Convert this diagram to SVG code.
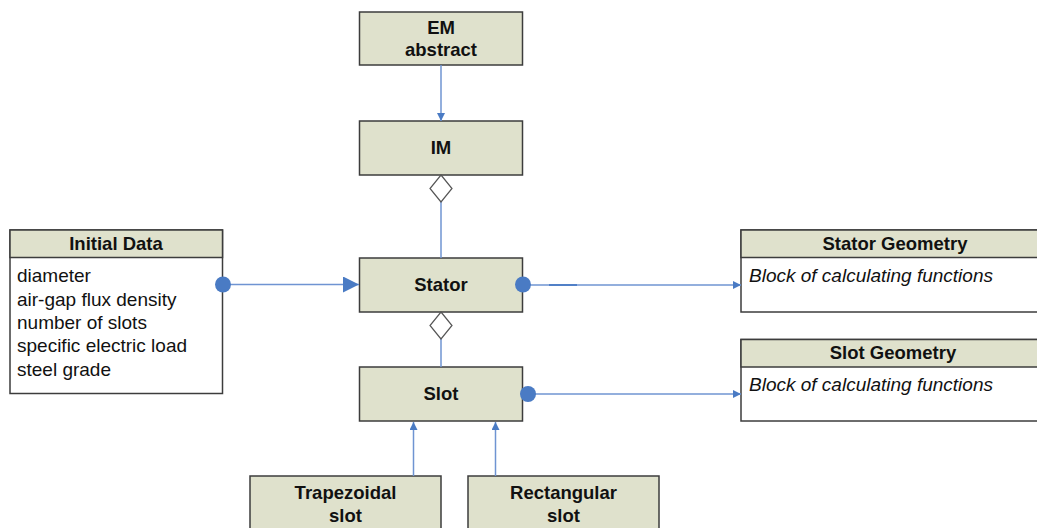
<svg xmlns="http://www.w3.org/2000/svg" width="1037" height="528" viewBox="0 0 1037 528">
<defs>
<style>
.box{fill:#dfe1cc;stroke:#3c3c3c;stroke-width:1.5}
.body{fill:#ffffff;stroke:#3c3c3c;stroke-width:1.5}
.t{font-family:"Liberation Sans",Arial,sans-serif;font-size:18.5px;font-weight:bold;fill:#111;text-anchor:middle}
.b{font-family:"Liberation Sans",Arial,sans-serif;font-size:19px;fill:#111}
.i{font-family:"Liberation Sans",Arial,sans-serif;font-size:19px;font-style:italic;fill:#111}
.ln{stroke:#6f94d2;stroke-width:1.5;fill:none}
.dot{fill:#4a7bc4}
.dia{fill:#fff;stroke:#555;stroke-width:1.2}
</style>
<marker id="sm" viewBox="0 0 10 10" refX="10" refY="5" markerWidth="8" markerHeight="8" markerUnits="userSpaceOnUse" orient="auto">
<path d="M0,0 L10,5 L0,10 Z" fill="#4a7bc4"/>
</marker>
<marker id="big" viewBox="0 0 10 10" refX="10" refY="5" markerWidth="16" markerHeight="16" markerUnits="userSpaceOnUse" orient="auto">
<path d="M0,0 L10,5 L0,10 Z" fill="#4a7bc4"/>
</marker>
</defs>
<g id="em">
<rect class="box" x="359.5" y="12" width="163" height="53"/>
<text class="t" x="441" y="34">EM</text>
<text class="t" x="441" y="56">abstract</text>
</g>
<g id="im">
<rect class="box" x="359.5" y="121" width="163" height="54"/>
<text class="t" x="441" y="154">IM</text>
</g>
<g id="stator">
<rect class="box" x="359.5" y="258" width="163" height="54"/>
<text class="t" x="441" y="291">Stator</text>
</g>
<g id="slot">
<rect class="box" x="359.5" y="367" width="163" height="54"/>
<text class="t" x="441" y="400">Slot</text>
</g>
<g id="initial-data">
<rect class="body" x="10" y="230" width="212.5" height="163.5"/>
<rect class="box" x="10" y="230" width="212.5" height="27.5"/>
<text class="t" x="116" y="250">Initial Data</text>
<text class="b" x="17" y="282">diameter</text>
<text class="b" x="17" y="305.5">air-gap flux density</text>
<text class="b" x="17" y="329">number of slots</text>
<text class="b" x="17" y="352">specific electric load</text>
<text class="b" x="17" y="375.5">steel grade</text>
</g>
<g id="stator-geometry">
<rect class="body" x="741" y="230" width="310" height="82"/>
<rect class="box" x="741" y="230" width="310" height="27.5"/>
<text class="t" x="895" y="250">Stator Geometry</text>
<text class="i" x="749" y="282">Block of calculating functions</text>
</g>
<g id="slot-geometry">
<rect class="body" x="741" y="339.5" width="310" height="81.5"/>
<rect class="box" x="741" y="339.5" width="310" height="27.5"/>
<text class="t" x="893" y="359">Slot Geometry</text>
<text class="i" x="749" y="391">Block of calculating functions</text>
</g>
<g id="trapezoidal">
<rect class="box" x="250" y="476" width="191" height="70"/>
<text class="t" x="345.5" y="499">Trapezoidal</text>
<text class="t" x="345.5" y="522">slot</text>
</g>
<g id="rectangular">
<rect class="box" x="468" y="476" width="191" height="70"/>
<text class="t" x="563.5" y="499">Rectangular</text>
<text class="t" x="563.5" y="522">slot</text>
</g>
<g id="connectors">
<line class="ln" x1="441" y1="65" x2="441" y2="121" marker-end="url(#sm)"/>
<line class="ln" x1="441" y1="202" x2="441" y2="258"/>
<polygon class="dia" points="441,175 452,188.5 441,202 430,188.5"/>
<line class="ln" x1="441" y1="339" x2="441" y2="367"/>
<polygon class="dia" points="441,312 452,325.5 441,339 430,325.5"/>
<line class="ln" x1="223" y1="284.5" x2="359" y2="284.5" marker-end="url(#big)"/>
<circle class="dot" cx="223" cy="284.5" r="8"/>
<line class="ln" x1="523" y1="285" x2="741" y2="285" marker-end="url(#sm)"/>
<line x1="549" y1="285" x2="577" y2="285" stroke="#4a7bc4" stroke-width="1.8"/>
<circle class="dot" cx="523" cy="284.5" r="8"/>
<line class="ln" x1="528" y1="394" x2="741" y2="394" marker-end="url(#sm)"/>
<circle class="dot" cx="528" cy="394" r="8"/>
<line class="ln" x1="413.5" y1="476" x2="413.5" y2="422" marker-end="url(#sm)"/>
<line class="ln" x1="495.5" y1="476" x2="495.5" y2="422" marker-end="url(#sm)"/>
</g>
</svg>
